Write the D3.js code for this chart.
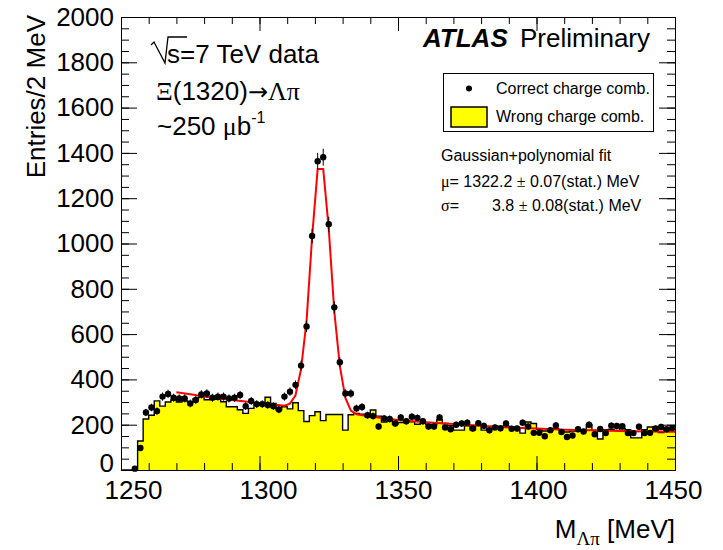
<!DOCTYPE html>
<html>
<head>
<meta charset="utf-8">
<script src="https://cdn.jsdelivr.net/npm/d3@7"></script>
<style>
body { margin: 0; background: #fff; }
text { font-family: "Liberation Sans", Arial, Helvetica, sans-serif; fill: #000; }
.sym { font-family: "Liberation Serif", "Times New Roman", serif; }
.arr { font-family: "DejaVu Sans", sans-serif; }
</style>
</head>
<body>
<svg id="chart"></svg>
<script>
var width = 723;
var height = 550;

// 2 MeV bins from 1250 to 1450
var binCenters = d3.range(1251, 1450, 2);

// correct charge comb. (points)
var correctCounts = [
    0, 0, 6, 97, 254, 276, 260, 324, 336, 319,
    316, 316, 294, 309, 334, 338, 319, 324, 324, 316,
    319, 331, 282, 305, 291, 291, 287, 282, 267, 324,
    346, 376, 461, 634, 1033, 1363, 1381, 1085, 718, 476,
    338, 338, 272, 278, 242, 238, 192, 228, 225, 205,
    232, 215, 235, 230, 215, 192, 192, 232, 188, 180,
    200, 205, 209, 183, 207, 195, 175, 188, 184, 205,
    182, 183, 209, 192, 164, 164, 149, 176, 197, 168,
    146, 152, 180, 170, 200, 158, 181, 163, 196, 194,
    193, 163, 163, 191, 163, 164, 183, 190, 180, 185
];

// wrong charge comb. (yellow histogram)
var wrongCounts = [
    0, 0, 0, 128, 225, 242, 305, 282, 300, 309,
    300, 305, 300, 315, 322, 310, 318, 312, 301, 279,
    279, 266, 250, 272, 290, 288, 321, 294, 266, 279,
    270, 297, 262, 214, 240, 257, 218, 245, 245, 245,
    176, 244, 250, 246, 236, 265, 238, 212, 218, 203,
    210, 215, 213, 202, 208, 201, 200, 222, 205, 196,
    176, 176, 195, 177, 197, 176, 185, 192, 188, 195,
    190, 180, 163, 212, 205, 180, 172, 178, 183, 178,
    168, 172, 175, 172, 200, 175, 137, 178, 180, 175,
    182, 178, 142, 142, 178, 190, 178, 165, 178, 185
];

// gaussian+polynomial fit
var fitMass = [1270, 1275, 1280, 1285, 1290, 1295, 1300, 1305, 1309, 1311, 1313, 1315, 1317, 1319, 1321, 1323,
    1325, 1327, 1329, 1331, 1333, 1335, 1340, 1345, 1350, 1360, 1370, 1380, 1390, 1400, 1410, 1420, 1430, 1440, 1450];
var fitValue = [343, 334, 325, 317, 309, 302, 295, 289, 284, 293, 330, 445, 660, 1030, 1329, 1329,
    1065, 700, 460, 318, 262, 246, 236, 228, 221, 211, 203, 195, 188, 183, 178, 175, 172, 170, 169];

var xMajor = d3.range(1250, 1451, 50);
var xMinor = d3.range(1250, 1451, 10);
var yMajor = d3.range(0, 2001, 200);
var yMinor = d3.range(0, 2001, 50);

// frame (window.top is reserved, so no "top" here)
var frameL = 121, frameR = 675, frameT = 17, frameB = 470;

var svg = d3.select("#chart")
    .attr("width", width)
    .attr("height", height);

svg.append("rect").attr("width", width).attr("height", height).attr("fill", "#fff");

var x = d3.scaleLinear().domain([1250, 1450]).range([frameL, frameR]);
var y = d3.scaleLinear().domain([0, 2000]).range([frameB, frameT]);
// the x labels in the original sit a bit off their ticks
var xLab = d3.scaleLinear().domain([1250, 1450]).range([133, 673]);

// histogram as steps on bin low edges
var histPts = binCenters.map(function(c, i) { return [c - 1, wrongCounts[i]]; });
histPts.push([1450, wrongCounts[wrongCounts.length - 1]]);

var histArea = d3.area()
    .x(function(d) { return x(d[0]); })
    .y0(y(0))
    .y1(function(d) { return y(d[1]); })
    .curve(d3.curveStepAfter);
var histLine = d3.line()
    .x(function(d) { return x(d[0]); })
    .y(function(d) { return y(d[1]); })
    .curve(d3.curveStepAfter);

svg.append("path").datum(histPts)
    .attr("d", histArea)
    .attr("fill", "#ffff00");
svg.append("path").datum(histPts)
    .attr("d", histLine)
    .attr("fill", "none")
    .attr("stroke", "#000")
    .attr("stroke-width", 1.4);

// fit curve
var fitLine = d3.line()
    .x(function(d, i) { return x(fitMass[i]); })
    .y(function(d) { return y(d); });
svg.append("path").datum(fitValue)
    .attr("d", fitLine)
    .attr("fill", "none")
    .attr("stroke", "#ff0000")
    .attr("stroke-width", 2);

// data points with poisson error bars
var pts = binCenters.map(function(c, i) { return {m: c, v: correctCounts[i]}; })
    .filter(function(d) { return d.v > 0; });

svg.append("g").selectAll("line").data(pts).enter().append("line")
    .attr("x1", function(d) { return x(d.m); })
    .attr("x2", function(d) { return x(d.m); })
    .attr("y1", function(d) { return y(d.v - Math.sqrt(d.v)); })
    .attr("y2", function(d) { return y(d.v + Math.sqrt(d.v)); })
    .attr("stroke", "#000")
    .attr("stroke-width", 1);

svg.append("g").selectAll("circle").data(pts).enter().append("circle")
    .attr("cx", function(d) { return x(d.m); })
    .attr("cy", function(d) { return y(d.v); })
    .attr("r", 3.2)
    .attr("fill", "#000");

// axes, ROOT style ticks on all four sides pointing inwards
function styleAxis(g) {
    g.selectAll("path.domain").attr("stroke", "#000").attr("stroke-width", 1);
    g.selectAll(".tick line").attr("stroke", "#000").attr("stroke-width", 1);
    g.selectAll("text").attr("font-size", 26).attr("font-family", "Liberation Sans, Arial, sans-serif").attr("fill", "#000");
}

svg.append("g").attr("transform", "translate(" + frameL + ",0)")
    .call(d3.axisLeft(y).tickValues(yMinor).tickSize(-8).tickFormat(""))
    .call(styleAxis);
var yAxisG = svg.append("g").attr("transform", "translate(" + frameL + ",0)")
    .call(d3.axisLeft(y).tickValues(yMajor).tickSizeInner(-16).tickSizeOuter(0).tickPadding(7).tickFormat(d3.format("d")))
    .call(styleAxis);
// the zero label is lifted a little, as in the original
yAxisG.selectAll(".tick text").filter(function(d) { return d === 0; }).attr("y", -7);

svg.append("g").attr("transform", "translate(" + frameR + ",0)")
    .call(d3.axisRight(y).tickValues(yMinor).tickSize(-8).tickFormat(""))
    .call(styleAxis);
svg.append("g").attr("transform", "translate(" + frameR + ",0)")
    .call(d3.axisRight(y).tickValues(yMajor).tickSizeInner(-16).tickSizeOuter(0).tickFormat(""))
    .call(styleAxis);

svg.append("g").attr("transform", "translate(0," + frameB + ")")
    .call(d3.axisBottom(x).tickValues(xMinor).tickSize(-7).tickFormat(""))
    .call(styleAxis);
var xAxisG = svg.append("g").attr("transform", "translate(0," + frameB + ")")
    .call(d3.axisBottom(x).tickValues(xMajor).tickSizeInner(-14).tickSizeOuter(0).tickPadding(11).tickFormat(d3.format("d")))
    .call(styleAxis);
xAxisG.selectAll(".tick text").attr("x", function(d) { return xLab(d) - x(d); });

svg.append("g").attr("transform", "translate(0," + frameT + ")")
    .call(d3.axisTop(x).tickValues(xMinor).tickSize(-7).tickFormat(""))
    .call(styleAxis);
svg.append("g").attr("transform", "translate(0," + frameT + ")")
    .call(d3.axisTop(x).tickValues(xMajor).tickSizeInner(-14).tickSizeOuter(0).tickFormat(""))
    .call(styleAxis);

// axis titles
svg.append("text")
    .attr("transform", "translate(45,15) rotate(-90)")
    .attr("text-anchor", "end")
    .attr("font-size", 26)
    .text("Entries/2 MeV");

var xt = svg.append("text")
    .attr("x", frameR).attr("y", 538)
    .attr("text-anchor", "end")
    .attr("font-size", 26);
xt.append("tspan").text("M");
xt.append("tspan").attr("class", "sym").attr("font-size", 19).attr("dy", 7).text("Λπ");
xt.append("tspan").attr("dy", -7).text(" [MeV]");

// top left labels
svg.append("path")
    .attr("d", "M151,45 L154,42 L165,63 L168,37 L187,37")
    .attr("fill", "none").attr("stroke", "#000").attr("stroke-width", 1.3);
svg.append("text").attr("x", 167).attr("y", 63).attr("font-size", 26).text("s=7 TeV data");

var t2 = svg.append("text").attr("x", 156).attr("y", 100).attr("font-size", 26);
t2.append("tspan").attr("class", "sym").text("Ξ");
t2.append("tspan").text("(1320)");
t2.append("tspan").attr("class", "arr").attr("font-size", 24).text("→");
t2.append("tspan").attr("class", "sym").text("Λπ");

var t3 = svg.append("text").attr("x", 157).attr("y", 135).attr("font-size", 26);
t3.append("tspan").text("~250 ");
t3.append("tspan").attr("class", "sym").text("μ");
t3.append("tspan").text("b");
t3.append("tspan").attr("font-size", 16).attr("dy", -12).text("-1");

// ATLAS label
svg.append("text").attr("x", 423).attr("y", 47)
    .attr("font-size", 26).attr("font-weight", "bold").attr("font-style", "italic")
    .text("ATLAS");
svg.append("text").attr("x", 520).attr("y", 47).attr("font-size", 26).text("Preliminary");

// legend
svg.append("rect").attr("x", 443.5).attr("y", 73.5).attr("width", 210).attr("height", 58)
    .attr("fill", "#fff").attr("stroke", "#000").attr("stroke-width", 1);
svg.append("circle").attr("cx", 469).attr("cy", 88.5).attr("r", 3).attr("fill", "#000");
svg.append("text").attr("x", 496).attr("y", 94).attr("font-size", 16).text("Correct charge comb.");
svg.append("rect").attr("x", 451).attr("y", 107).attr("width", 36).attr("height", 20)
    .attr("fill", "#ffff00").attr("stroke", "#000").attr("stroke-width", 1.5);
svg.append("text").attr("x", 496).attr("y", 122).attr("font-size", 16).text("Wrong charge comb.");

// fit results
svg.append("text").attr("x", 441).attr("y", 161).attr("font-size", 16).text("Gaussian+polynomial fit");
var mu = svg.append("text").attr("x", 441).attr("y", 187).attr("font-size", 16);
mu.append("tspan").attr("class", "sym").text("μ");
mu.append("tspan").text("= 1322.2 ");
mu.append("tspan").attr("class", "sym").text("±");
mu.append("tspan").text(" 0.07(stat.) MeV");
var sg = svg.append("text").attr("x", 441).attr("y", 211).attr("font-size", 16);
sg.append("tspan").attr("class", "sym").text("σ");
sg.append("tspan").text("=");
sg.append("tspan").attr("x", 492).text("3.8 ");
sg.append("tspan").attr("class", "sym").text("±");
sg.append("tspan").text(" 0.08(stat.) MeV");
</script>
</body>
</html>
